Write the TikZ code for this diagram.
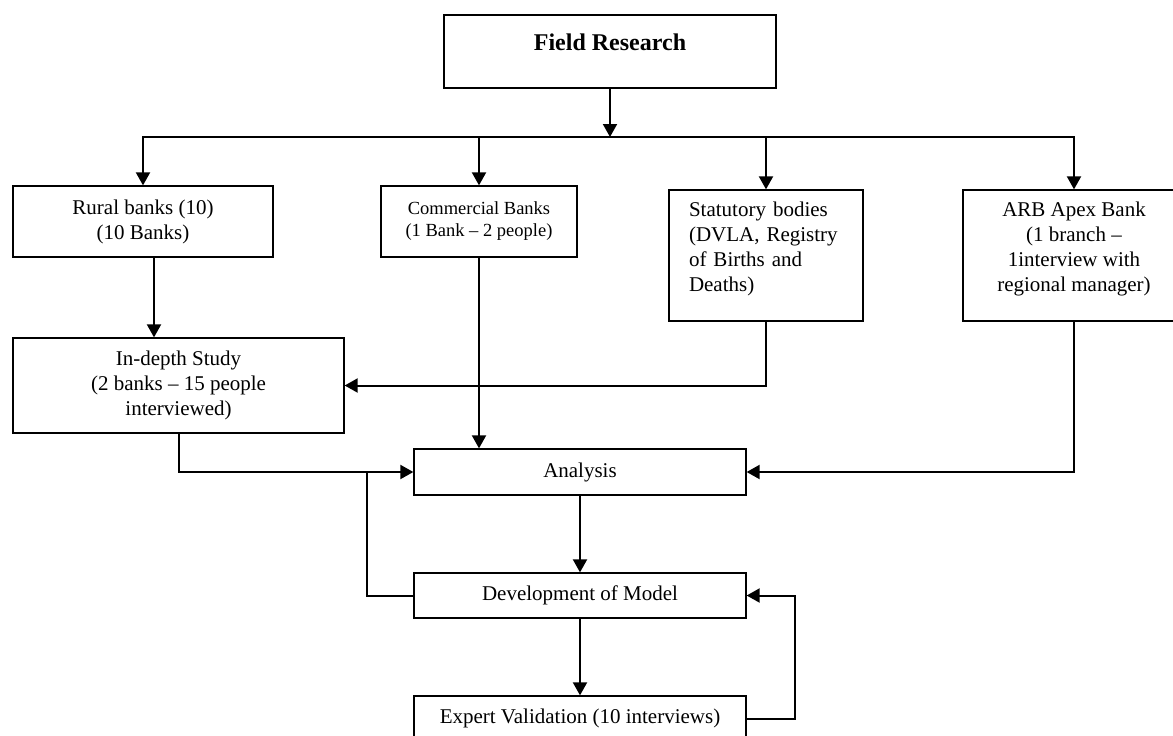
\documentclass[tikz,border=0pt]{standalone}
\usepackage{fontspec}
\setmainfont{Liberation Serif}
\usetikzlibrary{arrows.meta}
\begin{document}
\begin{tikzpicture}[x=1pt,y=-1pt,
  box/.style={draw,line width=1.3pt,inner sep=0pt,align=center,font=\fontsize{21}{25}\selectfont},
  conn/.style={line width=2pt,line cap=rect,line join=miter},
  arr/.style={conn,-{Triangle[length=13pt,width=14pt]}}]
\useasboundingbox (0,0) rectangle (1173,736);
% boxes
\node[box,minimum width=332pt,minimum height=73pt] (field) at (610,51.5) {};
\node[font=\fontsize{24}{28}\selectfont\bfseries] (fieldtxt) at (610,42) {Field Research};
\node[box,minimum width=260pt,minimum height=71pt] (rural) at (143,221.5) {Rural banks (10)\\(10 Banks)};
\node[box,minimum width=196pt,minimum height=71pt,font=\fontsize{18.5}{22}\selectfont] (comm) at (479,221.5) {Commercial Banks\\(1 Bank -- 2 people)};
\node[box,minimum width=194pt,minimum height=131pt,text width=154pt,inner xsep=20pt,align=left,yshift=0pt] (stat) at (766,255.5) {\raisebox{0pt}{}Statutory bodies\\(DVLA, Registry\\of Births and\\Deaths)\\[-8pt]\mbox{}};
\node[box,minimum width=222pt,minimum height=131pt] (arb) at (1074,255.5) {ARB Apex Bank\\(1 branch --\\1interview with\\regional manager)\\[-8pt]\mbox{}};
\node[box,minimum width=331pt,minimum height=95pt] (indepth) at (178.5,385.5) {In-depth Study\\(2 banks -- 15 people\\interviewed)};
\node[box,minimum width=332pt,minimum height=46pt] (analysis) at (580,472) {Analysis};
\node[box,minimum width=332pt,minimum height=45pt] (dev) at (580,595.5) {Development of Model};
\node[box,minimum width=332pt,minimum height=45pt] (expert) at (580,718.5) {Expert Validation (10 interviews)};
% bus
\coordinate (busL) at (143,137);
\coordinate (busR) at (1074,137);
\draw[conn] (busL) -- (busR);
\draw[arr] (field.south) -- (field.south |- busL);
\draw[arr] (busL) -- (rural.north);
\draw[arr] (comm.north |- busL) -- (comm.north);
\draw[arr] (stat.north |- busL) -- (stat.north);
\draw[arr] (busR) -- (arb.north);
% middle
\coordinate (r1) at ([xshift=11pt]rural.south);
\draw[arr] (r1) -- (r1 |- indepth.north);
\draw[arr] (comm.south) -- (comm.south |- analysis.north);
\draw[arr] (stat.south) |- (indepth.east);
\draw[arr] (arb.south) |- (analysis.east);
\draw[arr] (indepth.south) |- (analysis.west);
\coordinate (fb) at (367,472);
\draw[conn] (dev.west) -| (fb);
\draw[arr] (analysis.south) -- (dev.north);
\draw[arr] (dev.south) -- (expert.north);
\draw[arr] (expert.east) -- ++(48,0) |- (dev.east);
\end{tikzpicture}
\end{document}
